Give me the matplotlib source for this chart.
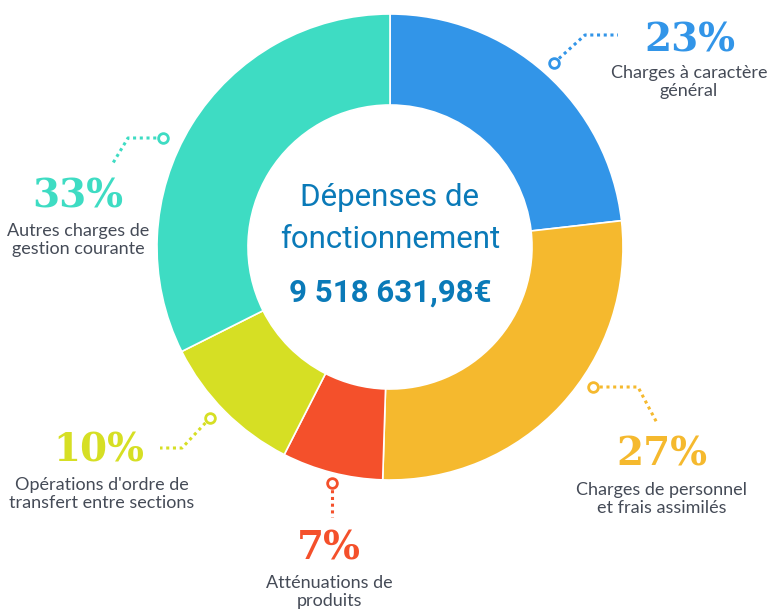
import matplotlib.pyplot as plt

# Image size in pixels
W, H = 771, 610

# Share of each spending category (clockwise from the top)
labels = ['Charges à caractère\ngénéral',
          'Charges de personnel\net frais assimilés',
          'Atténuations de\nproduits',
          "Opérations d'ordre de\ntransfert entre sections",
          'Autres charges de\ngestion courante']
pct_text = ['23%', '27%', '7%', '10%', '33%']
values = [23.2, 27.3, 7.0, 10.1, 32.4]
colors = ['#3295E8', '#F5B92E', '#F4502B', '#D6DF24', '#3EDCC3']

# Position of the big percentage, label lines and the dotted leader (pixel coords, y down)
layout = [
    {'pct': (690, 40), 'txt': (689, 82), 'leader': [(554, 63), (585, 35), (618, 35)]},
    {'pct': (662, 455), 'txt': (662, 499), 'leader': [(593, 387), (638, 387), (657, 423)]},
    {'pct': (329, 548), 'txt': (329, 592), 'leader': [(332, 483), (332, 517)]},
    {'pct': (99, 450), 'txt': (102, 494), 'leader': [(210, 418), (182, 448), (160, 448)]},
    {'pct': (78, 196), 'txt': (78, 240), 'leader': [(163, 138), (128, 138), (113, 163)]},
]


def fy(y):
    # flip image y to data y
    return H - y


fig = plt.figure(figsize=(W / 100, H / 100), dpi=100)
ax = fig.add_axes([0, 0, 1, 1])

# Donut
cx, cy, r = 390, 247, 233
ax.pie(values, colors=colors, startangle=90, counterclock=False,
       center=(cx, fy(cy)), radius=r, frame=True,
       wedgeprops=dict(width=r - 142, edgecolor='white', linewidth=1.2))
ax.set_xlim(0, W)
ax.set_ylim(0, H)
ax.set_aspect('equal')
ax.axis('off')

# Labels with dotted leaders
for i in range(len(values)):
    lay = layout[i]
    xs = [p[0] for p in lay['leader']]
    ys = [fy(p[1]) for p in lay['leader']]
    ax.plot(xs, ys, color=colors[i], linestyle=(0, (1, 1.2)), linewidth=2.2)
    ax.plot(xs[0], ys[0], 'o', markersize=7, markerfacecolor='white',
            markeredgecolor=colors[i], markeredgewidth=2)
    ax.text(lay['pct'][0], fy(lay['pct'][1]), pct_text[i], color=colors[i],
            fontsize=28, family='DejaVu Serif', fontweight='bold',
            ha='center', va='center')
    ax.text(lay['txt'][0], fy(lay['txt'][1]), labels[i], color='#454B57',
            fontsize=13, family='Lato', ha='center', va='center', linespacing=1.15)

# Center text
ax.text(cx, fy(197), 'Dépenses de', color='#0A7AB8', fontsize=22.5,
        family='Roboto', ha='center', va='center')
ax.text(cx, fy(240), 'fonctionnement', color='#0A7AB8', fontsize=22.5,
        family='Roboto', ha='center', va='center')
ax.text(cx, fy(293), '9 518 631,98€', color='#0A7AB8', fontsize=22.5,
        family='Roboto', fontweight='bold', ha='center', va='center')

fig.savefig('out.png', dpi=100)
